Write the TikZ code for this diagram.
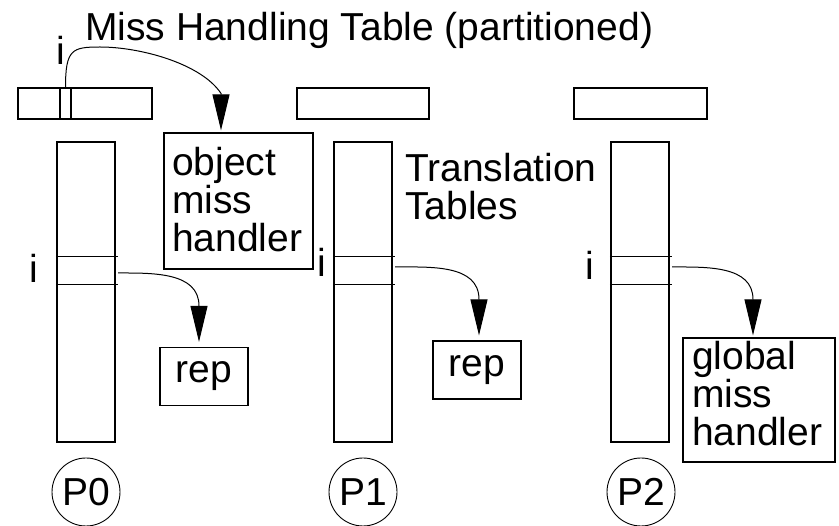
\documentclass[tikz,border=0pt]{standalone}
\usepackage{fontspec}
\setmainfont{Liberation Sans}
\usetikzlibrary{arrows.meta}
\begin{document}
\begin{tikzpicture}[x=1pt,y=-1pt,
  every node/.style={font=\fontsize{39}{38}\selectfont},
  box/.style={draw, line width=1.2pt, inner sep=0pt},
  lbl/.style={inner sep=0pt},
  proc/.style={draw, circle, line width=0.9pt, minimum size=68pt, inner sep=0pt},
  rowlines/.style={inner sep=0pt, minimum width=62pt, minimum height=27pt},
  arr/.style={line width=1pt, -{Triangle[length=36pt,width=17pt]}},
  ln/.style={line width=1.2pt}]
\useasboundingbox (0,0) rectangle (839,526);

% title
\node[lbl, anchor=base west] (title) at (85,41) {Miss Handling Table (partitioned)};

% miss handling table partitions
\node[box, minimum width=134pt, minimum height=31pt] (mht0) at (85,103.5) {};
\node[box, minimum width=132pt, minimum height=31pt] (mht1) at (363,103.5) {};
\node[box, minimum width=133pt, minimum height=31pt] (mht2) at (640.5,103.5) {};
\node[box, minimum width=11pt, minimum height=31pt] (slot) at (65.5,103.5) {};
\node[lbl, anchor=base] (itop) at (61,65) {i};

% translation tables
\node[box, minimum width=58pt, minimum height=300pt] (tt0) at (86,292) {};
\node[box, minimum width=58pt, minimum height=300pt] (tt1) at (363,292) {};
\node[box, minimum width=58pt, minimum height=300pt] (tt2) at (640,292) {};
\node[rowlines] (row0) at (87,270.5) {};
\node[rowlines] (row1) at (364,270.5) {};
\node[rowlines] (row2) at (641,270.5) {};
\foreach \r in {row0,row1,row2}{
  \draw[ln] (\r.north west) -- (\r.north east) (\r.south west) -- (\r.south east);
}
\node[lbl, anchor=base] (i0) at (34,283) {i};
\node[lbl, anchor=base] (i1) at (322,277) {i};
\node[lbl, anchor=base] (i2) at (590,280) {i};

\node[lbl, anchor=north west, align=left] (ttlabel) at (405,153) {Translation\\Tables};

% handler and rep boxes
\node[box, minimum width=149pt, minimum height=136pt] (omh) at (238.5,201) {};
\node[lbl, anchor=north west, align=left] (omhtext) at (172,147.5) {object\\miss\\handler};
\node[box, minimum width=152pt, minimum height=124pt] (gmh) at (759,400) {};
\node[lbl, anchor=north west, align=left] (gmhtext) at (692,341.5) {global\\miss\\handler};
\node[box, minimum width=88pt, minimum height=58pt] (rep0) at (204,376.5) {rep};
\node[box, minimum width=88pt, minimum height=58pt] (rep1) at (477,370) {rep};

% processors
\node[proc] (p0) at (86,492) {P0};
\node[proc] (p1) at (363,492) {P1};
\node[proc] (p2) at (641,492) {P2};

% arrow end points
\coordinate (topbend) at (100,47);
\coordinate (omhin) at ([shift={(-17.5pt,39pt)}]omh.north);
\coordinate (omhtip) at ([shift={(-17.5pt,2pt)}]omh.north);
\coordinate (rep0in) at ([shift={(-5pt,41pt)}]rep0.north);
\coordinate (rep0tip) at ([shift={(-5pt,5pt)}]rep0.north);
\coordinate (rep1in) at ([shift={(2pt,41pt)}]rep1.north);
\coordinate (rep1tip) at ([shift={(2pt,5pt)}]rep1.north);
\coordinate (gmhin) at ([shift={(-6pt,38pt)}]gmh.north);
\coordinate (gmhtip) at ([shift={(-6pt,2pt)}]gmh.north);

% connectors
\draw[arr] (slot.north) .. controls +(0,-38) and +(-28,0) .. (topbend)
  .. controls +(40,0) and +(-20,-30) .. (omhin) -- (omhtip);
\draw[arr] ([yshift=-2.5pt]row0.east) to[out=0,in=90] (rep0in) -- (rep0tip);
\draw[arr] ([yshift=3.5pt]row1.east) to[out=0,in=90] (rep1in) -- (rep1tip);
\draw[arr] ([yshift=3.5pt]row2.east) to[out=0,in=90] (gmhin) -- (gmhtip);
\end{tikzpicture}
\end{document}
